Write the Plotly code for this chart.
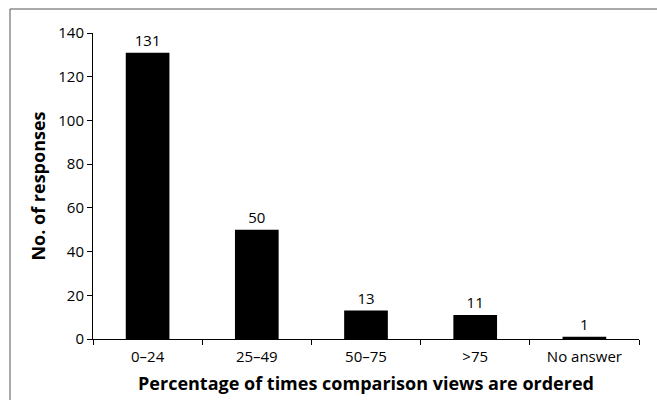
import plotly.graph_objects as go

categories = ["0–24", "25–49", "50–75", ">75", "No answer"]
responses = [131, 50, 13, 11, 1]
y_ticks = [0, 20, 40, 60, 80, 100, 120, 140]

W, H = 657, 400
L, R, T, B = 93, 18, 33, 61
pw, ph = W - L - R, H - T - B

fig = go.Figure(go.Bar(
    x=categories, y=responses,
    marker=dict(color="black", line=dict(width=0)),
    text=[str(v) for v in responses], textposition="outside",
    textfont=dict(size=15, color="black", family="Open Sans"),
    cliponaxis=False, width=0.4, hoverinfo="skip",
))

def px_x(p):
    return (p - L) / pw

def px_y(p):
    return (H - B - p) / ph

fig.update_layout(
    width=W, height=H,
    margin=dict(l=L, r=R, t=T, b=B, autoexpand=False),
    paper_bgcolor="white", plot_bgcolor="white",
    font=dict(family="Open Sans", size=15, color="black"),
    showlegend=False,
    xaxis=dict(
        automargin=False,
        showline=True, linecolor="black", linewidth=1,
        ticks="outside", ticklen=5, tickcolor="black", tickson="boundaries",
        ticklabelstandoff=4,
        showgrid=False, tickfont=dict(size=15),
        title=dict(text="<b>Percentage of times comparison views are ordered</b>",
                   font=dict(size=18), standoff=12),
    ),
    yaxis=dict(
        automargin=False,
        range=[0, 140], tickvals=y_ticks,
        showline=True, linecolor="black", linewidth=1,
        ticks="outside", ticklen=5, tickcolor="black",
        showgrid=False, zeroline=False, tickfont=dict(size=15),
        title=dict(text="<b>No. of responses</b>", font=dict(size=18), standoff=7),
    ),
    shapes=[
        dict(type="line", xref="paper", yref="paper",
             x0=px_x(10), x1=px_x(W + 5), y0=px_y(9), y1=px_y(9),
             line=dict(color="#555555", width=1)),
        dict(type="line", xref="paper", yref="paper",
             x0=px_x(10), x1=px_x(10), y0=px_y(9), y1=px_y(H + 5),
             line=dict(color="#555555", width=1)),
    ],
)

fig.write_html("out.html", config={"displayModeBar": False},
               post_script="document.body.style.margin='0';")
